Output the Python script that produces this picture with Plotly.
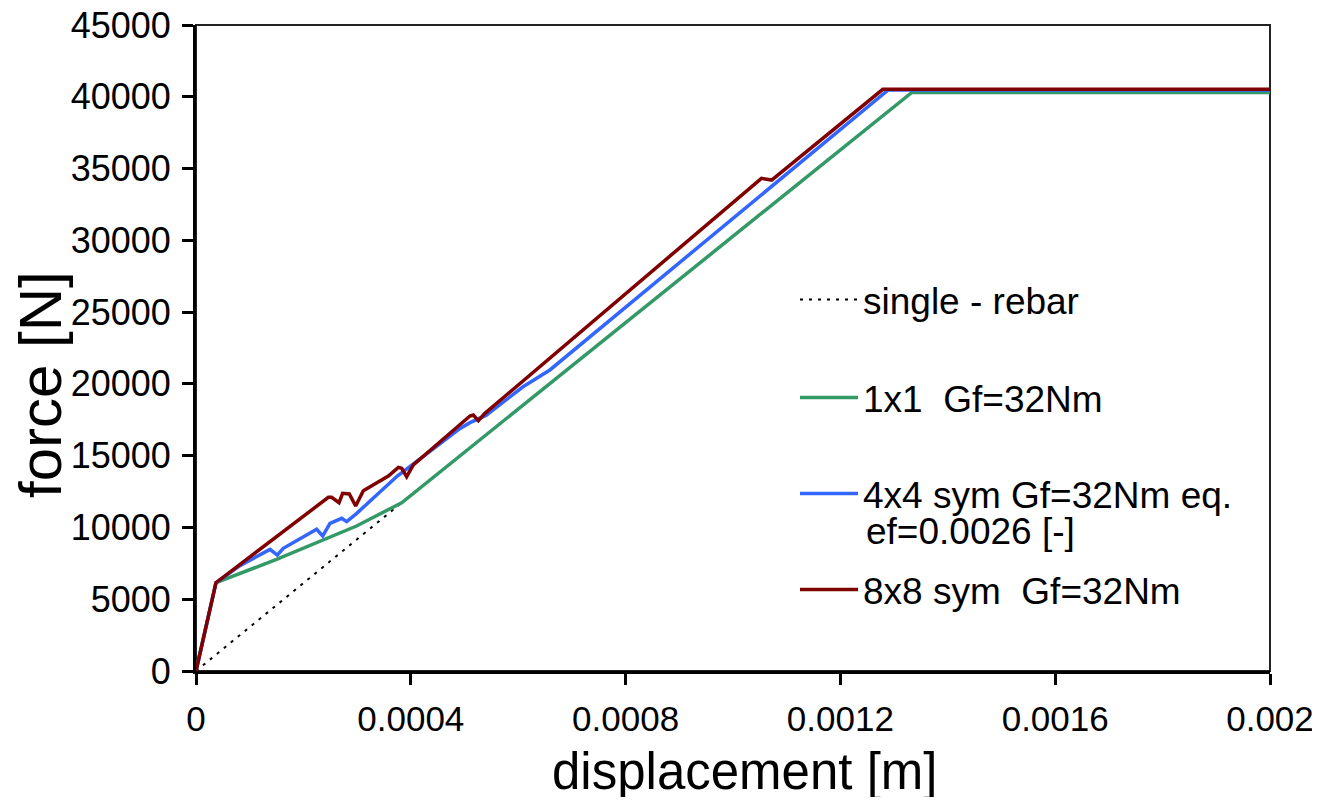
import plotly.graph_objects as go

# ---- data ----
rebar_x = [0, 0.000383]
rebar_y = [0, 11720]

g1x1_x = [0, 0.0000372, 0.000150, 0.000225, 0.000299, 0.000383, 0.001333, 0.002]
g1x1_y = [0, 6150, 7780, 8950, 10100, 11720, 40300, 40300]

g4x4_x = [0, 0.0000372, 0.0000819, 0.0001378, 0.0001514, 0.0001626, 0.0002247, 0.0002359,
          0.0002495, 0.0002713, 0.0002806, 0.0002993, 0.0003749, 0.000492, 0.0005102,
          0.000540, 0.000609, 0.000659, 0.001289, 0.002]
g4x4_y = [0, 6150, 7337, 8475, 8080, 8545, 9870, 9404,
          10287, 10634, 10403, 10983, 13583, 16900, 17299,
          17800, 19800, 20970, 40480, 40480]

g8x8_x = [0, 0.0000372, 0.0002464, 0.0002526, 0.0002663, 0.0002731, 0.0002855, 0.0002973,
          0.0003116, 0.0003582, 0.0003768, 0.000383, 0.0003923, 0.0004047, 0.0005102,
          0.0005164, 0.0005258, 0.000538, 0.001053, 0.001072, 0.001279, 0.002]
g8x8_y = [0, 6150, 12097, 12097, 11725, 12376, 12329, 11493,
          12562, 13583, 14187, 14117, 13537, 14350, 17763,
          17832, 17437, 17950, 34320, 34200, 40520, 40520]

x_tickvals = [0, 0.0004, 0.0008, 0.0012, 0.0016, 0.002]
x_ticktext = ["0", "0.0004", "0.0008", "0.0012", "0.0016", "0.002"]
y_tickvals = [0, 5000, 10000, 15000, 20000, 25000, 30000, 35000, 40000, 45000]
y_ticktext = [str(v) for v in y_tickvals]

names = ["single - rebar", "1x1  Gf=32Nm", "4x4 sym Gf=32Nm eq.", "8x8 sym  Gf=32Nm"]
name4x4_line2 = "ef=0.0026 [-]"

FONT = "Liberation Sans, Arial, sans-serif"
LEG_FONT = dict(size=37, family=FONT, color="black")

# page has an 8px body margin: figure sized/offset so the plot area sits at x 196..1270, y 25..671
FIG_W, FIG_H = 1304, 789
PLOT_TOP, PLOT_H = 25, 646
PLOT_LEFT, PLOT_W = 196, 1074


def py(ypix):
    return (PLOT_TOP + PLOT_H - ypix) / PLOT_H


def px(xpix):
    return (xpix - PLOT_LEFT) / PLOT_W


fig = go.Figure()
fig.add_trace(go.Scatter(x=rebar_x, y=rebar_y, mode="lines", name=names[0], legend="legend",
                         line=dict(color="black", width=2, dash="3px,6px")))
fig.add_trace(go.Scatter(x=g1x1_x, y=g1x1_y, mode="lines", name=names[1], legend="legend2",
                         line=dict(color="#339966", width=3.5)))
fig.add_trace(go.Scatter(x=g4x4_x, y=g4x4_y, mode="lines", name=names[2], legend="legend3",
                         line=dict(color="#3366FF", width=3.5)))
fig.add_trace(go.Scatter(x=g8x8_x, y=g8x8_y, mode="lines", name=names[3], legend="legend4",
                         line=dict(color="#800000", width=3.5)))


def leg(ypix):
    return dict(x=px(795), y=py(ypix), xanchor="left", yanchor="middle",
                font=LEG_FONT, bgcolor="rgba(0,0,0,0)", valign="top", itemwidth=58)


fig.update_layout(
    width=FIG_W, height=FIG_H,
    margin=dict(l=188, r=42, t=17, b=126, autoexpand=False),
    paper_bgcolor="white", plot_bgcolor="white",
    font=dict(family=FONT, color="black"),
    showlegend=True,
    legend=leg(300),
    legend2=leg(398),
    legend3=leg(494),
    legend4=leg(590),
    xaxis=dict(range=[0, 0.002], tickvals=x_tickvals, ticktext=x_ticktext,
               showgrid=False, zeroline=False, showline=True, linecolor="black", linewidth=3,
               mirror=False, ticks="outside", ticklen=11, tickwidth=3, tickcolor="black",
               tickfont=dict(size=35, family=FONT), ticklabelstandoff=4, automargin=False,
               ticklabeloverflow="allow"),
    yaxis=dict(range=[0, 45000], tickvals=y_tickvals, ticktext=y_ticktext,
               showgrid=False, zeroline=False, showline=True, linecolor="black", linewidth=3,
               mirror=False, ticks="outside", ticklen=11, tickwidth=3, tickcolor="black",
               tickfont=dict(size=36, family=FONT), ticklabelstandoff=4, automargin=False,
               ticklabeloverflow="allow"),
    shapes=[
        dict(type="rect", xref="paper", yref="paper", x0=0, y0=0, x1=1, y1=1,
             line=dict(color="#222222", width=2), layer="below"),
    ],
    annotations=[
        dict(text=name4x4_line2, xref="paper", yref="paper", x=px(864), y=py(531),
             xanchor="left", yanchor="middle", showarrow=False, font=LEG_FONT),
        dict(text="displacement [m]", xref="paper", yref="paper", x=px(745), y=py(771),
             xanchor="center", yanchor="middle", showarrow=False,
             font=dict(size=51, family=FONT)),
        dict(text="force [N]", xref="paper", yref="paper", x=px(40), y=py(384),
             xanchor="center", yanchor="middle", showarrow=False, textangle=-90,
             font=dict(size=60, family=FONT)),
    ],
)

fig.write_html("out.html")
